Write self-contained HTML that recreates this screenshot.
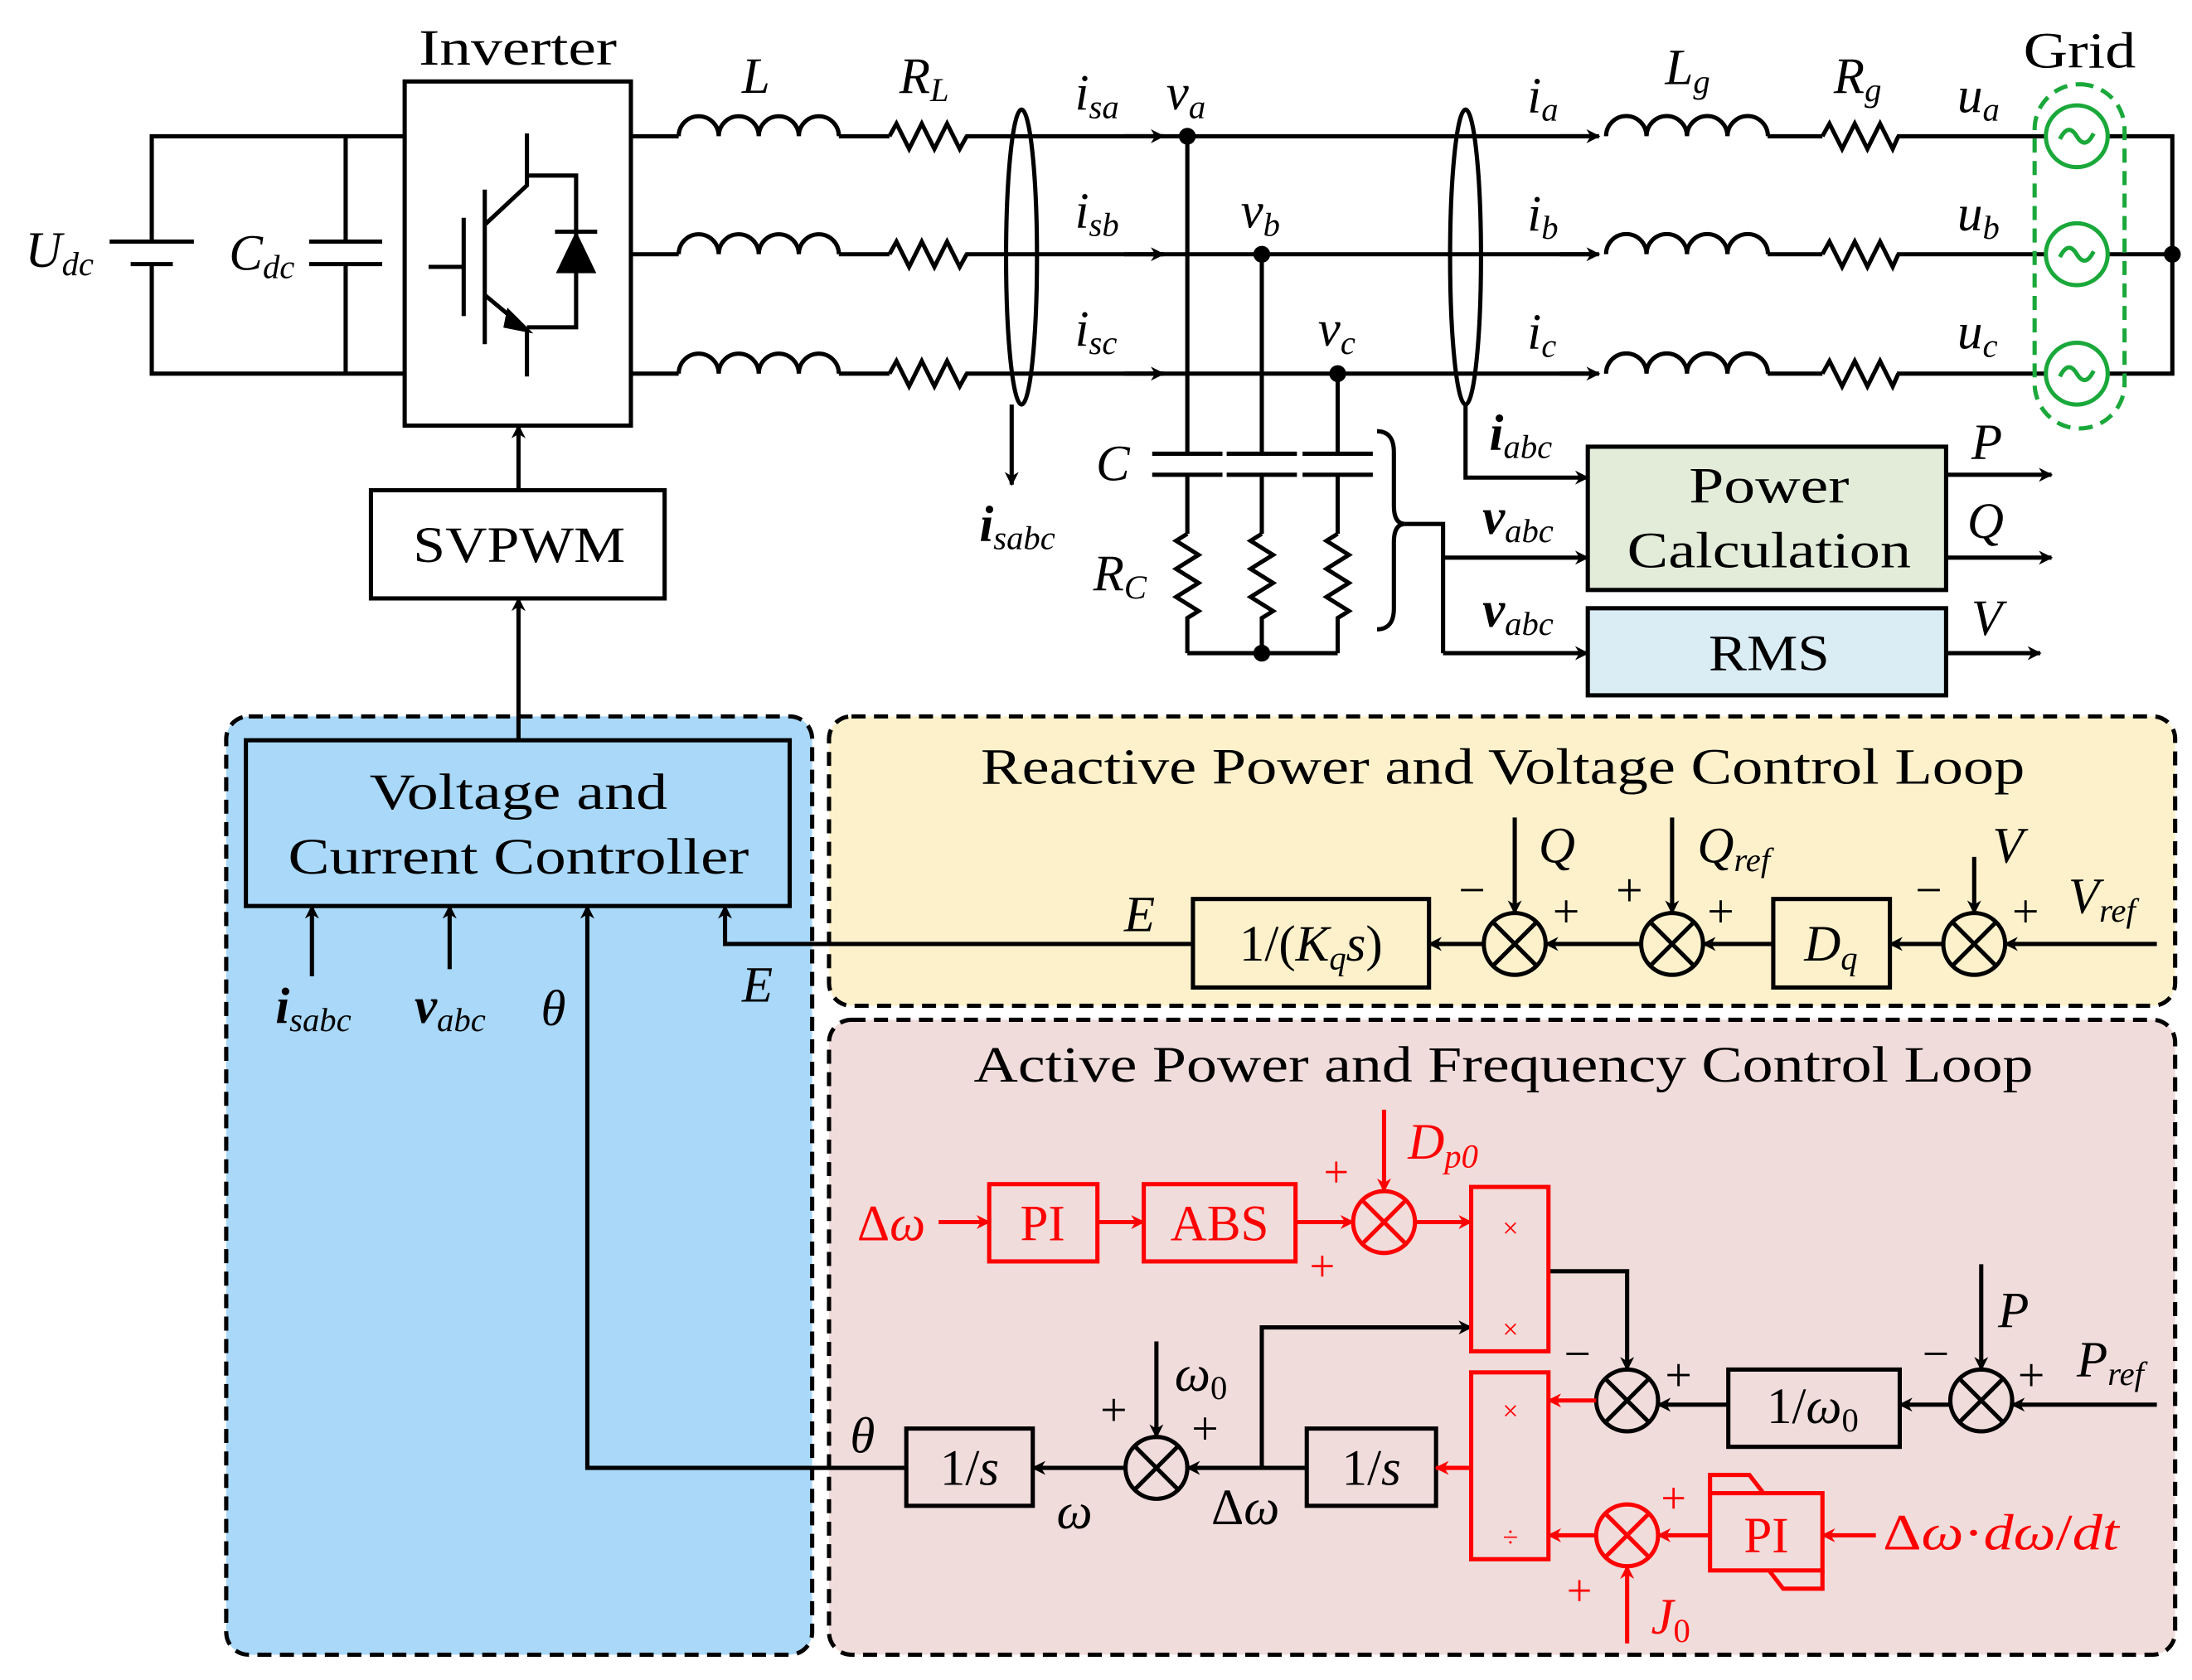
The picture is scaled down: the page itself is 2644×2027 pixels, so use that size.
<!DOCTYPE html>
<html><head><meta charset="utf-8"><style>
html,body{margin:0;padding:0;background:#fff;}
svg{display:block;}
text{font-family:"Liberation Serif",serif;}
.it{font-style:italic;}
</style></head><body>
<svg width="2644" height="2027" viewBox="0 0 1560 1196" preserveAspectRatio="none" xmlns="http://www.w3.org/2000/svg">
<defs>
<marker id="ak" markerWidth="10" markerHeight="10" refX="9" refY="5" orient="auto" markerUnits="userSpaceOnUse"><path d="M0,0 L10,5 L0,10 L3,5 Z" fill="#000"/></marker>
<marker id="ar" markerWidth="10" markerHeight="10" refX="9" refY="5" orient="auto" markerUnits="userSpaceOnUse"><path d="M0,0 L10,5 L0,10 L3,5 Z" fill="#f00"/></marker>
</defs>
<rect width="1560" height="1196" fill="#fff"/>
<g stroke="#000" stroke-width="3" fill="none">
<path d="M288,97 H108 V172 M108,188 V266 H288"/>
<path d="M78,172 H138" /><path d="M93,188 H123"/>
<path d="M246,97 V172 M246,188 V266"/>
<path d="M220,172 H272 M220,188 H272"/>
<rect x="288" y="58" width="161" height="245"/>
<path d="M305,190 H330 M330,155 V225 M345,135 V245 M345,160 L375,132 V95 M345,210 L375,235 V268 M375,125 H410 V233 H375 M395,165 H425 M410,165 V195"/>
<path d="M398,193 L410,168 L422,193 Z" fill="#000"/>
<path d="M362,222 L375,235 L360,232 Z" fill="#000"/>
<path d="M449,97 H483 M597,97 H633 M687,97 H828 M449,181 H483 M597,181 H633 M687,181 H828 M449,266 H483 M597,266 H633 M687,266 H828"/>
<path d="M820,97 H1135 M820,181 H1135 M820,266 H1135"/>
<path d="M1258,97 H1297 M1350,97 H1456 M1258,181 H1297 M1350,181 H1456 M1258,266 H1297 M1350,266 H1456"/>
<path d="M1500,97 H1546 V266 H1500 M1500,181 H1546"/>
</g>
<g stroke="#000" stroke-width="3" fill="none">
<path d="M483,97 a14.25,14.25 0 0 1 28.5,0 a14.25,14.25 0 0 1 28.5,0 a14.25,14.25 0 0 1 28.5,0 a14.25,14.25 0 0 1 28.5,0"/>
<path d="M483,181 a14.25,14.25 0 0 1 28.5,0 a14.25,14.25 0 0 1 28.5,0 a14.25,14.25 0 0 1 28.5,0 a14.25,14.25 0 0 1 28.5,0"/>
<path d="M483,266 a14.25,14.25 0 0 1 28.5,0 a14.25,14.25 0 0 1 28.5,0 a14.25,14.25 0 0 1 28.5,0 a14.25,14.25 0 0 1 28.5,0"/>
<path d="M1143,97 a14.4,14.4 0 0 1 28.8,0 a14.4,14.4 0 0 1 28.8,0 a14.4,14.4 0 0 1 28.8,0 a14.4,14.4 0 0 1 28.8,0"/>
<path d="M1143,181 a14.4,14.4 0 0 1 28.8,0 a14.4,14.4 0 0 1 28.8,0 a14.4,14.4 0 0 1 28.8,0 a14.4,14.4 0 0 1 28.8,0"/>
<path d="M1143,266 a14.4,14.4 0 0 1 28.8,0 a14.4,14.4 0 0 1 28.8,0 a14.4,14.4 0 0 1 28.8,0 a14.4,14.4 0 0 1 28.8,0"/>
<path d="M633,97 l5,-9 l9,18 l9,-18 l9,18 l9,-18 l9,18 l5,-9 M633,181 l5,-9 l9,18 l9,-18 l9,18 l9,-18 l9,18 l5,-9 M633,266 l5,-9 l9,18 l9,-18 l9,18 l9,-18 l9,18 l5,-9"/>
<path d="M1297,97 l5,-9 l9,18 l9,-18 l9,18 l9,-18 l9,18 l4,-9 M1297,181 l5,-9 l9,18 l9,-18 l9,18 l9,-18 l9,18 l4,-9 M1297,266 l5,-9 l9,18 l9,-18 l9,18 l9,-18 l9,18 l4,-9"/>
</g>
<g stroke="#000" stroke-width="3" marker-end="url(#ak)">
<path d="M800,97 H828"/><path d="M800,181 H828"/><path d="M800,266 H828"/>
<path d="M1110,97 H1138"/><path d="M1110,181 H1138"/><path d="M1110,266 H1138"/>
</g>
<ellipse cx="727" cy="183" rx="11" ry="105" fill="none" stroke="#000" stroke-width="3"/>
<ellipse cx="1043" cy="183" rx="11" ry="105" fill="none" stroke="#000" stroke-width="3"/>
<path d="M720,288 V345" stroke="#000" stroke-width="3" marker-end="url(#ak)"/>
<path d="M1043,288 V340 H1130" stroke="#000" stroke-width="3" fill="none" marker-end="url(#ak)"/>
<g stroke="#000" stroke-width="3" fill="none">
<path d="M845,97 V323 M845,338 V380 M898,181 V323 M898,338 V380 M952,266 V323 M952,338 V380"/>
<path d="M820,323 H870 M820,338 H870 M873,323 H923 M873,338 H923 M927,323 H977 M927,338 H977"/>
<path d="M845,380 l-8,5 l16,10 l-16,10 l16,10 l-16,10 l16,10 l-8,5 V465 M898,380 l-8,5 l16,10 l-16,10 l16,10 l-16,10 l16,10 l-8,5 V465 M952,380 l-8,5 l16,10 l-16,10 l16,10 l-16,10 l16,10 l-8,5 V465"/>
<path d="M845,465 H952"/>
<path d="M980,307 q12,0 12,15 V360 q0,13 8,13 q-8,0 -8,13 V433 q0,15 -12,15"/>
<path d="M1000,373 H1027 V465"/>
</g>
<path d="M1027,397 H1130" stroke="#000" stroke-width="3" marker-end="url(#ak)"/>
<path d="M1027,465 H1130" stroke="#000" stroke-width="3" marker-end="url(#ak)"/>
<g fill="#000"><circle cx="845" cy="97" r="6"/><circle cx="898" cy="181" r="6"/><circle cx="952" cy="266" r="6"/><circle cx="898" cy="465" r="6"/><circle cx="1546" cy="181" r="6"/></g>
<rect x="1448" y="60" width="64" height="245" rx="32" fill="none" stroke="#1aa83a" stroke-width="3" stroke-dasharray="10,6"/>
<g stroke="#1aa83a" stroke-width="3" fill="#fff">
<circle cx="1478" cy="97" r="22"/><circle cx="1478" cy="181" r="22"/><circle cx="1478" cy="266" r="22"/>
</g>
<g stroke="#1aa83a" stroke-width="3" fill="none">
<path d="M1466,99 q6,-12 12,-2 q6,10 12,-2"/><path d="M1466,183 q6,-12 12,-2 q6,10 12,-2"/><path d="M1466,268 q6,-12 12,-2 q6,10 12,-2"/>
</g>
<rect x="1130" y="318" width="255" height="102" fill="#e3ecd9" stroke="#000" stroke-width="3"/>
<rect x="1130" y="433" width="255" height="62" fill="#daedf5" stroke="#000" stroke-width="3"/>
<g stroke="#000" stroke-width="3" marker-end="url(#ak)">
<path d="M1385,338 H1460"/><path d="M1385,397 H1460"/><path d="M1385,465 H1452"/>
</g>
<rect x="264" y="349" width="209" height="77" fill="#fff" stroke="#000" stroke-width="3"/>
<path d="M369,349 V303" stroke="#000" stroke-width="3" marker-end="url(#ak)"/>
<rect x="161" y="510" width="417" height="668" rx="16" fill="#a9d8f8" stroke="#000" stroke-width="3" stroke-dasharray="10,6"/>
<rect x="590" y="510" width="958" height="206" rx="16" fill="#fdf1cc" stroke="#000" stroke-width="3" stroke-dasharray="10,6"/>
<rect x="590" y="726" width="958" height="452" rx="16" fill="#f0dcdb" stroke="#000" stroke-width="3" stroke-dasharray="10,6"/>
<path d="M369,527 V426" stroke="#000" stroke-width="3" marker-end="url(#ak)"/>
<rect x="175" y="527" width="387" height="118" fill="#a9d8f8" stroke="#000" stroke-width="3"/>
<g stroke="#000" stroke-width="3" fill="none" marker-end="url(#ak)">
<path d="M222,695 V645"/><path d="M320,690 V645"/>
<path d="M645,1045 H418 V645"/>
<path d="M849,672 H516 V645"/>
</g>
<g stroke="#000" stroke-width="3" fill="#fff">
<rect x="849" y="640" width="168" height="63" fill="none"/>
<rect x="1262" y="640" width="83" height="63" fill="none"/>
</g>
<g stroke="#000" stroke-width="3" fill="none">
<circle cx="1078" cy="672" r="22"/><path d="M1062,656 L1094,688 M1094,656 L1062,688"/>
<circle cx="1190" cy="672" r="22"/><path d="M1174,656 L1206,688 M1206,656 L1174,688"/>
<circle cx="1405" cy="672" r="22"/><path d="M1389,656 L1421,688 M1421,656 L1389,688"/>
</g>
<g stroke="#000" stroke-width="3" marker-end="url(#ak)">
<path d="M1535,672 H1427"/><path d="M1383,672 H1345"/><path d="M1262,672 H1212"/><path d="M1168,672 H1100"/><path d="M1056,672 H1017"/>
<path d="M1405,610 V650"/><path d="M1190,582 V650"/><path d="M1078,582 V650"/>
</g>
<g stroke="#000" stroke-width="3" fill="none">
<rect x="1230" y="975" width="122" height="55"/>
<rect x="930" y="1017" width="92" height="55"/>
<rect x="645" y="1017" width="90" height="55"/>
<circle cx="1158" cy="997" r="22"/><path d="M1142,981 L1174,1013 M1174,981 L1142,1013"/>
<circle cx="1410" cy="997" r="22"/><path d="M1394,981 L1426,1013 M1426,981 L1394,1013"/>
<circle cx="823" cy="1045" r="22"/><path d="M807,1029 L839,1061 M839,1029 L807,1061"/>
</g>
<g stroke="#000" stroke-width="3" fill="none" marker-end="url(#ak)">
<path d="M1535,1000 H1432"/><path d="M1410,900 V975"/><path d="M1388,1000 H1352"/><path d="M1230,1000 H1180"/>
<path d="M1102,905 H1158 V975"/>
<path d="M930,1045 H845"/><path d="M801,1045 H735"/><path d="M823,955 V1023"/>
<path d="M898,1045 V945 H1047"/>
</g>
<g stroke="#f00" stroke-width="3" fill="none">
<rect x="704" y="843" width="77" height="55"/>
<rect x="814" y="843" width="108" height="55"/>
<rect x="1047" y="845" width="55" height="117"/>
<rect x="1047" y="977" width="55" height="133"/>
<rect x="1217" y="1063" width="80" height="55"/>
<path d="M1217,1063 V1050 H1245 L1255,1063 M1297,1118 V1131 H1269 L1259,1118"/>
<circle cx="985" cy="870" r="22"/><path d="M969,854 L1001,886 M1001,854 L969,886"/>
<circle cx="1158" cy="1093" r="22"/><path d="M1142,1077 L1174,1109 M1174,1077 L1142,1109"/>
</g>
<g stroke="#f00" stroke-width="3" fill="none" marker-end="url(#ar)">
<path d="M668,870 H704"/><path d="M781,870 H814"/><path d="M922,870 H963"/><path d="M1007,870 H1047"/>
<path d="M985,790 V848"/>
<path d="M1136,997 H1102"/><path d="M1047,1045 H1022"/>
<path d="M1217,1093 H1180"/><path d="M1136,1093 H1102"/>
<path d="M1335,1093 H1297"/><path d="M1158,1170 V1115"/>
</g>
<g fill="#000" font-size="36">
<text x="298" y="46" textLength="141" lengthAdjust="spacingAndGlyphs">Inverter</text>
<text x="1440" y="48" textLength="80" lengthAdjust="spacingAndGlyphs">Grid</text>
<text x="294" y="400" textLength="151" lengthAdjust="spacingAndGlyphs">SVPWM</text>
<text x="1202" y="358" textLength="114" lengthAdjust="spacingAndGlyphs">Power</text>
<text x="1158" y="404" textLength="202" lengthAdjust="spacingAndGlyphs">Calculation</text>
<text x="1216" y="477" textLength="86" lengthAdjust="spacingAndGlyphs">RMS</text>
<text x="263" y="576" textLength="212" lengthAdjust="spacingAndGlyphs">Voltage and</text>
<text x="205" y="622" textLength="328" lengthAdjust="spacingAndGlyphs">Current Controller</text>
<text x="698" y="558" textLength="743" lengthAdjust="spacingAndGlyphs">Reactive Power and Voltage Control Loop</text>
<text x="693" y="770" textLength="754" lengthAdjust="spacingAndGlyphs">Active Power and Frequency Control Loop</text>
<text x="933" y="684" text-anchor="middle">1/(<tspan class="it">K</tspan><tspan class="it" font-size="24" dy="6">q</tspan><tspan class="it" dy="-6">s</tspan>)</text>
<text x="1284" y="684" class="it">D<tspan font-size="24" dy="6">q</tspan></text>
<text x="1290" y="1013" text-anchor="middle">1/<tspan class="it">ω</tspan><tspan font-size="24" dy="6">0</tspan></text>
<text x="976" y="1057" text-anchor="middle">1/<tspan class="it">s</tspan></text>
<text x="690" y="1057" text-anchor="middle">1/<tspan class="it">s</tspan></text>
</g>
<g fill="#000" font-size="36" class="it">
<text x="18" y="190" class="it">U<tspan font-size="24" dy="6">dc</tspan></text>
<text x="163" y="192" class="it">C<tspan font-size="24" dy="6">dc</tspan></text>
<text x="528" y="66" class="it">L</text>
<text x="640" y="66" class="it">R<tspan font-size="24" dy="6">L</tspan></text>
<text x="765" y="78" class="it">i<tspan font-size="24" dy="6">sa</tspan></text>
<text x="765" y="162" class="it">i<tspan font-size="24" dy="6">sb</tspan></text>
<text x="765" y="246" class="it">i<tspan font-size="24" dy="6">sc</tspan></text>
<text x="830" y="78" class="it">v<tspan font-size="24" dy="6">a</tspan></text>
<text x="883" y="162" class="it">v<tspan font-size="24" dy="6">b</tspan></text>
<text x="938" y="246" class="it">v<tspan font-size="24" dy="6">c</tspan></text>
<text x="1087" y="80" class="it">i<tspan font-size="24" dy="6">a</tspan></text>
<text x="1087" y="164" class="it">i<tspan font-size="24" dy="6">b</tspan></text>
<text x="1087" y="248" class="it">i<tspan font-size="24" dy="6">c</tspan></text>
<text x="1185" y="60" class="it">L<tspan font-size="24" dy="6">g</tspan></text>
<text x="1305" y="66" class="it">R<tspan font-size="24" dy="6">g</tspan></text>
<text x="1393" y="80" class="it">u<tspan font-size="24" dy="6">a</tspan></text>
<text x="1393" y="164" class="it">u<tspan font-size="24" dy="6">b</tspan></text>
<text x="1393" y="248" class="it">u<tspan font-size="24" dy="6">c</tspan></text>
<text x="780" y="342" class="it">C</text>
<text x="778" y="420" class="it">R<tspan font-size="24" dy="6">C</tspan></text>
<text x="697" y="385" class="it" font-weight="bold">i<tspan font-size="24" dy="6" font-weight="normal">sabc</tspan></text>
<text x="1060" y="320" class="it" font-weight="bold">i<tspan font-size="24" dy="6" font-weight="normal">abc</tspan></text>
<text x="1055" y="380" class="it" font-weight="bold">v<tspan font-size="24" dy="6" font-weight="normal">abc</tspan></text>
<text x="1055" y="446" class="it" font-weight="bold">v<tspan font-size="24" dy="6" font-weight="normal">abc</tspan></text>
<text x="1403" y="327" class="it">P</text>
<text x="1400" y="383" class="it">Q</text>
<text x="1403" y="452" class="it">V</text>
<text x="196" y="728" class="it" font-weight="bold">i<tspan font-size="24" dy="6" font-weight="normal">sabc</tspan></text>
<text x="295" y="728" class="it" font-weight="bold">v<tspan font-size="24" dy="6" font-weight="normal">abc</tspan></text>
<text x="385" y="730" class="it">θ</text>
<text x="528" y="713" class="it">E</text>
<text x="800" y="663" class="it">E</text>
<text x="1095" y="614" class="it">Q</text>
<text x="1208" y="614" class="it">Q<tspan font-size="24" dy="6">ref</tspan></text>
<text x="1418" y="614" class="it">V</text>
<text x="1472" y="650" class="it">V<tspan font-size="24" dy="6">ref</tspan></text>
<text x="1422" y="945" class="it">P</text>
<text x="1478" y="980" class="it">P<tspan font-size="24" dy="6">ref</tspan></text>
<text x="836" y="990" class="it">ω<tspan font-size="24" dy="6" font-style="normal">0</tspan></text>
<text x="605" y="1034" class="it">θ</text>
<text x="752" y="1088" class="it">ω</text>
<text x="862" y="1085"><tspan font-style="normal">Δ</tspan>ω</text>
</g>
<g fill="#000" font-size="34">
<text x="1038" y="645">−</text><text x="1105" y="660">+</text>
<text x="1150" y="645">+</text><text x="1215" y="660">+</text>
<text x="1363" y="645">−</text><text x="1432" y="660">+</text>
<text x="1113" y="975">−</text><text x="1185" y="990">+</text>
<text x="1368" y="975">−</text><text x="1436" y="990">+</text>
<text x="783" y="1015">+</text><text x="848" y="1028">+</text>
</g>
<g fill="#f00" font-size="36">
<text x="610" y="883">Δ<tspan class="it">ω</tspan></text>
<text x="742" y="883" text-anchor="middle">PI</text>
<text x="868" y="883" text-anchor="middle">ABS</text>
<text x="1257" y="1105" text-anchor="middle">PI</text>
<text x="1002" y="825" class="it">D<tspan font-size="24" dy="6">p0</tspan></text>
<text x="1175" y="1163" class="it">J<tspan font-size="24" dy="6" font-style="normal">0</tspan></text>
<text x="1340" y="1103" textLength="168" lengthAdjust="spacingAndGlyphs">Δ<tspan class="it">ω</tspan>·<tspan class="it">dω</tspan>/<tspan class="it">dt</tspan></text>
<text x="942" y="845" font-size="32">+</text><text x="932" y="912" font-size="32">+</text>
<text x="1182" y="1077" font-size="32">+</text><text x="1115" y="1143" font-size="32">+</text>
<text x="1075" y="881" font-size="20" text-anchor="middle">×</text>
<text x="1075" y="953" font-size="20" text-anchor="middle">×</text>
<text x="1075" y="1011" font-size="20" text-anchor="middle">×</text>
<text x="1075" y="1101" font-size="20" text-anchor="middle">÷</text>
</g>
</svg>
</body></html>
